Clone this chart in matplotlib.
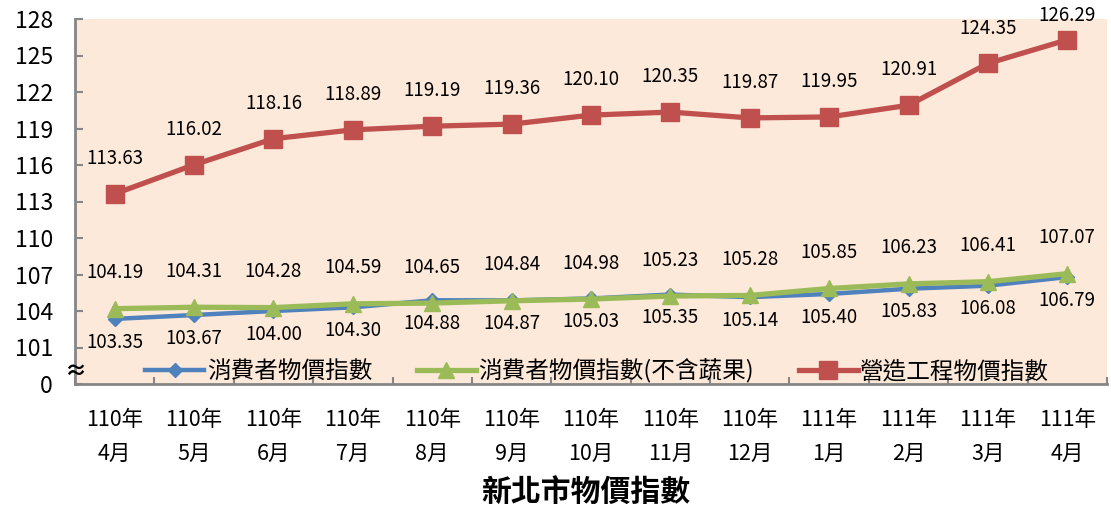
import numpy as np
import matplotlib.pyplot as plt
import matplotlib.transforms as mtransforms

plt.rcParams['font.family'] = ['Noto Sans CJK TC', 'DejaVu Sans']

# data
months = ["110年\n4月", "110年\n5月", "110年\n6月", "110年\n7月", "110年\n8月", "110年\n9月",
          "110年\n10月", "110年\n11月", "110年\n12月", "111年\n1月", "111年\n2月", "111年\n3月", "111年\n4月"]
cpi = [103.35, 103.67, 104.00, 104.30, 104.88, 104.87, 105.03, 105.35, 105.14, 105.40, 105.83, 106.08, 106.79]
cpi_core = [104.19, 104.31, 104.28, 104.59, 104.65, 104.84, 104.98, 105.23, 105.28, 105.85, 106.23, 106.41, 107.07]
build = [113.63, 116.02, 118.16, 118.89, 119.19, 119.36, 120.10, 120.35, 119.87, 119.95, 120.91, 124.35, 126.29]
yticks = [98, 101, 104, 107, 110, 113, 116, 119, 122, 125, 128]
ytick_labels = ["0", "101", "104", "107", "110", "113", "116", "119", "122", "125", "128"]

blue = "#4F81BD"
green = "#9BBB59"
red = "#C0504D"
gray = "#868686"

fig = plt.figure(figsize=(11.11, 5.13), dpi=100)
ax = fig.add_axes([75 / 1111, 1 - 384 / 513, 1032 / 1111, 365 / 513])
ax.set_facecolor("#FDE9D9")

x = np.arange(len(months))
ax.plot(x, cpi, color=blue, lw=3.2, marker="D", ms=7, label="消費者物價指數", zorder=3)
ax.plot(x, cpi_core, color=green, lw=3.8, marker="^", ms=12, label="消費者物價指數(不含蔬果)", zorder=4)
ax.plot(x, build, color=red, lw=3.8, marker="s", ms=13, label="營造工程物價指數", zorder=5)

# data labels
for i in range(len(x)):
    ax.text(x[i], min(build[i] + 2.9, 128.3), f"{build[i]:.2f}", ha="center", va="center", fontsize=13.5, clip_on=False)
    ax.text(x[i], cpi_core[i] + 2.95, f"{cpi_core[i]:.2f}", ha="center", va="center", fontsize=13.5)
    ax.text(x[i], cpi[i] - 1.9, f"{cpi[i]:.2f}", ha="center", va="center", fontsize=13.5)

ax.set_xlim(-0.5, 12.5)
ax.set_ylim(98, 128)
ax.set_yticks(yticks)
ax.set_yticklabels(ytick_labels, fontsize=16.5)
ax.set_xticks(np.arange(-0.5, 13, 1))
ax.set_xticklabels([])
ax.set_xticks(x, minor=True)
ax.set_xticklabels(months, minor=True, fontsize=15.5, linespacing=1.7)
ax.tick_params(axis="y", direction="in", length=6, width=1.5, color=gray, pad=16)
ax.tick_params(axis="x", which="major", direction="in", length=5, width=1.5, color=gray)
ax.tick_params(axis="x", which="minor", length=0, pad=18)

for s in ["top", "right"]:
    ax.spines[s].set_visible(False)
for s in ["left", "bottom"]:
    ax.spines[s].set_color(gray)
    ax.spines[s].set_linewidth(2)

# axis break mark
trans = mtransforms.blended_transform_factory(ax.transAxes, ax.transData)
ax.text(0, 99.0, "≈", transform=trans, ha="center", va="center", fontsize=16, fontweight="bold",
        clip_on=False, zorder=6)

ax.legend(loc="center", bbox_to_anchor=(0.506, 0.035), ncol=3, frameon=False, fontsize=17,
          handlelength=2.5, handletextpad=0.1, columnspacing=1.9)

fig.text(586 / 1111, 1 - 493 / 513, "新北市物價指數", ha="center", va="center", fontsize=21.5, fontweight="bold")

fig.savefig("out.png", dpi=100)
